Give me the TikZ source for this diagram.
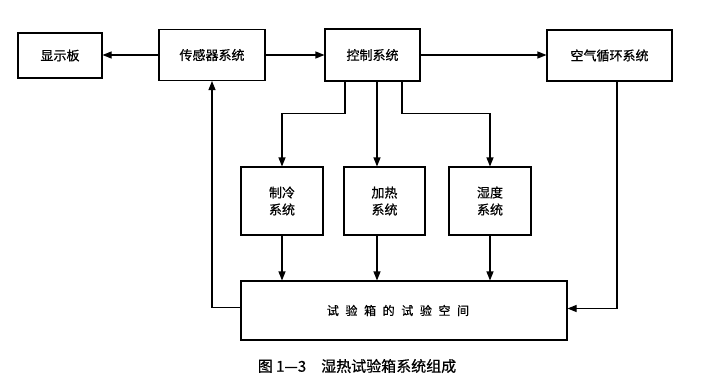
\documentclass[tikz,border=0pt]{standalone}
\usepackage{fontspec}
\setmainfont[FakeBold=0.6]{Noto Sans CJK SC}
\newfontfamily\widefont[LetterSpace=55,FakeBold=0.6]{Noto Sans CJK SC}
\usetikzlibrary{arrows.meta}
\begin{document}
\begin{tikzpicture}[x=1pt,y=-1pt,
    box/.style={draw,line width=1.1pt,font=\fontsize{13}{17}\selectfont,align=center,inner sep=0pt},
    arr/.style={line width=1.1pt,-{Triangle[length=9pt,width=7pt]}}]
  \useasboundingbox (0,0) rectangle (711,388);
  \node[box,minimum width=84pt,minimum height=45pt] (xianshi) at (60,55.5) {显示板};
  \node[box,minimum width=106pt,minimum height=51pt] (chuangan) at (212,55) {传感器系统};
  \node[box,minimum width=95pt,minimum height=52pt] (kongzhi) at (372.5,55) {控制系统};
  \node[box,minimum width=125pt,minimum height=51pt] (kongqi) at (609.5,55.5) {空气循环系统};
  \node[box,minimum width=82pt,minimum height=68pt] (zhileng) at (282,201) {制冷\\系统};
  \node[box,minimum width=81pt,minimum height=68pt] (jiare) at (384.5,201) {加热\\系统};
  \node[box,minimum width=82pt,minimum height=68pt] (shidu) at (490,201) {湿度\\系统};
  \node[box,minimum width=326pt,minimum height=59pt] (shiyan) at (404,310.5) {\widefont\fontsize{12}{16}\selectfont 试验箱的试验空间\hspace{12pt}};
  \draw[arr] (chuangan.west) -- (chuangan.west -| xianshi.east);
  \draw[arr] (chuangan.east) -- (chuangan.east -| kongzhi.west);
  \draw[arr] (kongzhi.east) -- (kongzhi.east -| kongqi.west);
  \draw[arr] ([xshift=-27.5pt]kongzhi.south) -- ++(0,32) -| (zhileng.north);
  \draw[arr] ([xshift=4.5pt]kongzhi.south) -- ([xshift=4.5pt]kongzhi.south |- jiare.north);
  \draw[arr] ([xshift=29.5pt]kongzhi.south) -- ++(0,32) -| (shidu.north);
  \draw[arr] (zhileng.south) -- (zhileng.south |- shiyan.north);
  \draw[arr] ([xshift=-7.5pt]jiare.south) -- ([xshift=-7.5pt]jiare.south |- shiyan.north);
  \draw[arr] (shidu.south) -- (shidu.south |- shiyan.north);
  \draw[arr] ([yshift=3pt]shiyan.west) -| (chuangan.south);
  \draw[arr] ([xshift=7.5pt]kongqi.south) |- ([yshift=2pt]shiyan.east);
  \node[font=\fontsize{15}{18}\selectfont] (caption) at (357,366) {图 1—3\quad 湿热试验箱系统组成};
\end{tikzpicture}
\end{document}
